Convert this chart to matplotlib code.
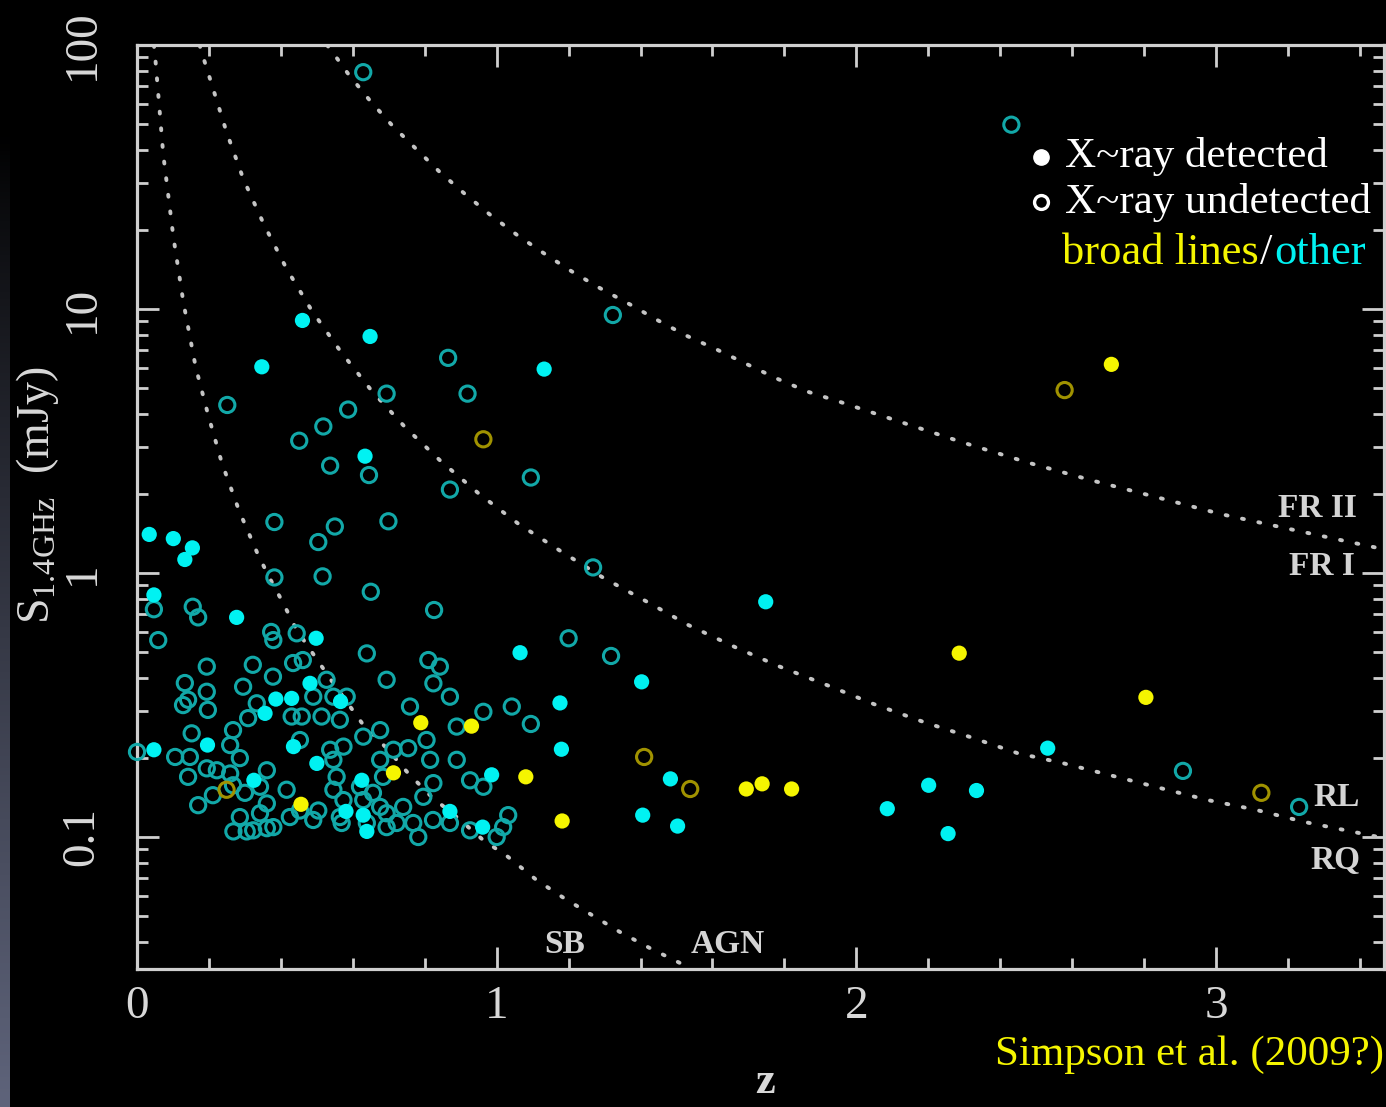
import matplotlib.pyplot as plt
import numpy as np
from matplotlib.ticker import LogLocator, MultipleLocator, NullFormatter, FixedLocator, FixedFormatter

# ---- sources: redshift z and 1.4 GHz flux density S (mJy) ----
# X-ray detected, no broad lines
det_other_z = [0.460, 0.648, 0.347, 1.132, 0.634, 0.034, 0.101, 0.154, 0.133, 0.047,
               0.277, 1.748, 0.498, 1.065, 1.403, 1.176, 1.180, 1.483, 1.406, 1.503,
               2.086, 2.201, 2.255, 2.334, 2.532, 0.047, 0.196, 0.481, 0.386, 0.430,
               0.356, 0.566, 0.435, 0.500, 0.325, 0.581, 0.986, 0.625, 0.629, 0.639,
               0.870, 0.961]
det_other_s = [9.05, 7.87, 6.04, 5.92, 2.77, 1.40, 1.35, 1.245, 1.125, 0.826,
               0.679, 0.778, 0.566, 0.499, 0.387, 0.322, 0.215, 0.166, 0.121, 0.110,
               0.128, 0.157, 0.103, 0.150, 0.217, 0.214, 0.223, 0.382, 0.333, 0.335,
               0.294, 0.326, 0.220, 0.190, 0.164, 0.125, 0.172, 0.164, 0.121, 0.105,
               0.125, 0.109]

# X-ray undetected, no broad lines
undet_other_z = [0.629, 2.431, 1.323, 0.865, 0.694, 0.919, 0.251, 0.587, 0.518, 0.451,
                 0.537, 0.645, 0.870, 1.095, 0.382, 0.550, 0.504, 0.699, 0.382, 0.516,
                 0.650, 1.268, 3.231, 2.908, 1.318, 1.200, 1.095, 0.826, 1.042, 1.032,
                 1.018, 1.000, 0.047, 0.155, 0.170, 0.059, 0.379, 0.444, 0.000, 0.373,
                 0.133, 0.142, 0.194, 0.197, 0.128, 0.152, 0.106, 0.147, 0.142, 0.194,
                 0.170, 0.194, 0.322, 0.378, 0.295, 0.333, 0.309, 0.267, 0.259, 0.286,
                 0.222, 0.259, 0.361, 0.211, 0.267, 0.300, 0.342, 0.361, 0.416, 0.430,
                 0.458, 0.453, 0.461, 0.434, 0.490, 0.527, 0.513, 0.546, 0.583, 0.564,
                 0.537, 0.546, 0.574, 0.629, 0.639, 0.555, 0.546, 0.574, 0.629, 0.676,
                 0.676, 0.676, 0.713, 0.694, 0.759, 0.810, 0.842, 0.824, 0.870, 0.754,
                 0.805, 0.815, 0.824, 0.796, 0.889, 0.926, 0.963, 0.963, 0.889, 0.694,
                 0.722, 0.870, 0.926, 0.768, 0.740, 0.620, 0.564, 0.639, 0.694, 0.490,
                 0.453, 0.342, 0.286, 0.268, 0.323, 0.379, 0.425, 0.504, 0.782, 0.823,
                 0.305, 0.569, 0.361, 0.684, 0.656]
undet_other_s = [78.9, 49.9, 9.49, 6.53, 4.78, 4.78, 4.33, 4.16, 3.59, 3.17,
                 2.55, 2.35, 2.07, 2.30, 1.56, 1.50, 1.31, 1.57, 0.962, 0.971,
                 0.849, 1.05, 0.130, 0.178, 0.485, 0.566, 0.268, 0.724, 0.312, 0.121,
                 0.109, 0.100, 0.729, 0.745, 0.679, 0.557, 0.557, 0.591, 0.210, 0.598,
                 0.383, 0.331, 0.355, 0.303, 0.316, 0.247, 0.201, 0.201, 0.169, 0.182,
                 0.132, 0.442, 0.449, 0.405, 0.371, 0.321, 0.282, 0.254, 0.223, 0.199,
                 0.179, 0.174, 0.179, 0.144, 0.157, 0.147, 0.155, 0.134, 0.151, 0.286,
                 0.286, 0.233, 0.468, 0.456, 0.340, 0.394, 0.286, 0.340, 0.340, 0.278,
                 0.214, 0.196, 0.220, 0.240, 0.496, 0.169, 0.151, 0.138, 0.138, 0.130,
                 0.254, 0.196, 0.214, 0.394, 0.312, 0.468, 0.442, 0.382, 0.340, 0.217,
                 0.233, 0.196, 0.160, 0.142, 0.196, 0.164, 0.155, 0.298, 0.262, 0.123,
                 0.113, 0.113, 0.106, 0.113, 0.130, 0.155, 0.119, 0.113, 0.109, 0.116,
                 0.126, 0.123, 0.119, 0.105, 0.106, 0.109, 0.119, 0.126, 0.100, 0.116,
                 0.105, 0.113, 0.108, 0.169, 0.147]

# X-ray detected, broad lines
det_broad_z = [0.789, 0.930, 0.713, 1.081, 1.182, 2.286, 2.805, 1.694, 1.738, 1.820, 2.709, 0.456]
det_broad_s = [0.271, 0.263, 0.175, 0.169, 0.115, 0.497, 0.338, 0.152, 0.159, 0.152, 6.17, 0.133]

# X-ray undetected, broad lines
undet_broad_z = [0.963, 2.579, 1.410, 1.538, 3.126, 0.249]
undet_broad_s = [3.21, 4.93, 0.201, 0.152, 0.147, 0.151]

# ---- dividing tracks ----
sb_agn_z = [0.047, 0.050, 0.073, 0.101, 0.129, 0.163, 0.198, 0.236, 0.284, 0.338,
            0.379, 0.402, 0.444, 0.495, 0.546, 0.629, 0.694, 0.753, 0.819, 0.892,
            0.962, 1.031, 1.111, 1.187, 1.264, 1.341, 1.425, 1.510, 1.537]
sb_agn_s = [100, 92, 38.5, 18.8, 10.6, 6.04, 3.96, 2.61, 1.72, 1.16,
            0.90, 0.790, 0.608, 0.482, 0.382, 0.266, 0.217, 0.175, 0.142, 0.118,
            0.0975, 0.0842, 0.0687, 0.0587, 0.0507, 0.0438, 0.0380, 0.0333, 0.0316]

rl_rq_z = [0.174, 0.180, 0.208, 0.249, 0.296, 0.353, 0.416, 0.486, 0.566, 0.653,
           0.746, 0.845, 0.952, 1.062, 1.178, 1.295, 1.418, 1.533, 1.664, 1.787,
           1.925, 2.048, 2.186, 2.317, 2.447, 2.577, 2.716, 2.847, 2.977, 3.108,
           3.246, 3.376, 3.467]
rl_rq_s = [100, 93.7, 70.8, 46.8, 31.0, 20.9, 14.2, 9.86, 6.91, 4.89,
           3.56, 2.65, 1.99, 1.53, 1.21, 0.962, 0.778, 0.635, 0.523, 0.442,
           0.373, 0.319, 0.273, 0.239, 0.208, 0.190, 0.170, 0.153, 0.138, 0.127,
           0.114, 0.105, 0.099]

fr_z = [0.528, 0.537, 0.587, 0.648, 0.710, 0.776, 0.842, 0.910, 0.981, 1.056,
        1.130, 1.208, 1.287, 1.371, 1.448, 1.527, 1.614, 1.700, 1.779, 1.865,
        1.954, 2.129, 2.303, 2.477, 2.656, 2.833, 3.015, 3.192, 3.372, 3.467]
fr_s = [100, 96.7, 77.8, 61.5, 49.5, 40.4, 33.0, 27.4, 22.8, 19.1,
        16.3, 13.9, 12.0, 10.4, 9.06, 7.93, 7.00, 6.14, 5.45, 4.86,
        4.45, 3.71, 3.10, 2.62, 2.24, 1.94, 1.67, 1.48, 1.31, 1.23]

y_ticks = [0.1, 1, 10, 100]
y_tick_labels = ['0.1', '1', '10', '100']
x_ticks = [0, 1, 2, 3]
x_tick_labels = ['0', '1', '2', '3']

# ---- style ----
plt.rcParams['font.family'] = ['Liberation Serif', 'DejaVu Serif']
plt.rcParams['mathtext.default'] = 'regular'

frame_col = '#cfcfcf'
cyan = '#00f2f2'
teal = '#12a8a8'
yellow = '#f5f500'
olive = '#a09200'

fig = plt.figure(figsize=(13.86, 11.07), dpi=100, facecolor='black')

# bluish strip down the left edge of the slide
strip = fig.add_axes([0, 0, 0.0072, 1])
t = np.linspace(0, 1, 300)
ramp = np.clip((t - 0.12) / 0.88, 0, 1) ** 0.85
grad = ramp[:, None, None] * np.array([0.37, 0.39, 0.48])[None, None, :]
strip.imshow(grad, aspect='auto', extent=[0, 1, 0, 1], origin='upper')
strip.axis('off')

ax = fig.add_axes([137 / 1386, 1 - 969 / 1107, (1384 - 137) / 1386, 924 / 1107])
ax.set_facecolor('black')
ax.set_yscale('log')
ax.set_xlim(0, 3.467)
ax.set_ylim(10 ** -1.5, 100)

# dotted luminosity tracks
dot_style = dict(color='#c4c4c4', lw=2.8, linestyle=(0, (0.5, 3.8)),
                 dash_capstyle='round', zorder=2)
ax.plot(sb_agn_z, sb_agn_s, **dot_style)
ax.plot(rl_rq_z, rl_rq_s, **dot_style)
ax.plot(fr_z, fr_s, **dot_style)

# sources: open = X-ray undetected, filled = X-ray detected
ax.scatter(undet_other_z, undet_other_s, s=120, facecolors='none',
           edgecolors=teal, linewidths=2.2, zorder=3, clip_on=False)
ax.scatter(undet_broad_z, undet_broad_s, s=120, facecolors='none',
           edgecolors=olive, linewidths=2.2, zorder=3)
ax.scatter(det_other_z, det_other_s, s=120, color=cyan, edgecolors='none', zorder=4)
ax.scatter(det_broad_z, det_broad_s, s=120, color=yellow, edgecolors='none', zorder=4)

# track labels
lab = dict(color='#d4d4d4', fontsize=24, fontweight='bold', ha='center', va='center')
ax.text(3.283, 1.76, 'FR II', **lab)
ax.text(3.294, 1.06, 'FR I', **lab)
ax.text(3.336, 0.141, 'RL', **lab)
ax.text(3.331, 0.0818, 'RQ', **lab)
ax.text(1.190, 0.039, 'SB', **lab)
ax.text(1.643, 0.039, 'AGN', **lab)

# axes frame and ticks
for sp in ax.spines.values():
    sp.set_color(frame_col)
    sp.set_linewidth(2.3)

ax.xaxis.set_major_locator(FixedLocator(x_ticks))
ax.xaxis.set_major_formatter(FixedFormatter(x_tick_labels))
ax.xaxis.set_minor_locator(MultipleLocator(0.2))
ax.yaxis.set_major_locator(FixedLocator(y_ticks))
ax.yaxis.set_major_formatter(FixedFormatter(y_tick_labels))
ax.yaxis.set_minor_locator(LogLocator(base=10, subs=np.arange(2, 10)))
ax.yaxis.set_minor_formatter(NullFormatter())

ax.tick_params(which='both', direction='in', top=True, right=True,
               color=frame_col, width=2.0, labelcolor='#d8d8d8', labelsize=34)
ax.tick_params(which='major', length=16)
ax.tick_params(which='minor', length=8)
ax.tick_params(axis='x', which='major', pad=12)
ax.tick_params(axis='y', which='major', pad=24, labelrotation=90)
for lbl in ax.get_yticklabels():
    lbl.set_va('center')

fig.text(38 / 1386, 1 - 495 / 1107, r'$S_{1.4GHz}$  (mJy)', rotation=90,
         color='#d8d8d8', fontsize=33, ha='center', va='center')
fig.text(765 / 1386, 1 - 1082 / 1107, 'z', color='#d8d8d8', fontsize=32,
         fontweight='bold', ha='center', va='center')

# key
key_font = 31
ax.plot([1041 / 1386], [1 - 157 / 1107], 'o', ms=11, color='white',
        transform=fig.transFigure, clip_on=False)
ax.plot([1041 / 1386], [1 - 202 / 1107], 'o', ms=10, mfc='none', mec='white',
        mew=2.4, transform=fig.transFigure, clip_on=False)
fig.text(1065 / 1386, 1 - 157 / 1107, 'X~ray detected', color='white',
         fontsize=key_font, va='center', ha='left')
fig.text(1065 / 1386, 1 - 202 / 1107, 'X~ray undetected', color='white',
         fontsize=key_font, va='center', ha='left')

fig.canvas.draw()
renderer = fig.canvas.get_renderer()
x0 = 1062 / 1386
yb = 1 - 264 / 1107
for word, col in [('broad lines', yellow), ('/', 'white'), ('other', cyan)]:
    tx = fig.text(x0, yb, word, color=col, fontsize=key_font + 1, va='baseline', ha='left')
    bb = tx.get_window_extent(renderer)
    x0 = bb.x1 / fig.bbox.width + 0.001

fig.text(995 / 1386, 1 - 1055 / 1107, 'Simpson et al. (2009?)', color=yellow,
         fontsize=31, ha='left', va='center')

fig.savefig('out.png', dpi=100, facecolor='black')
